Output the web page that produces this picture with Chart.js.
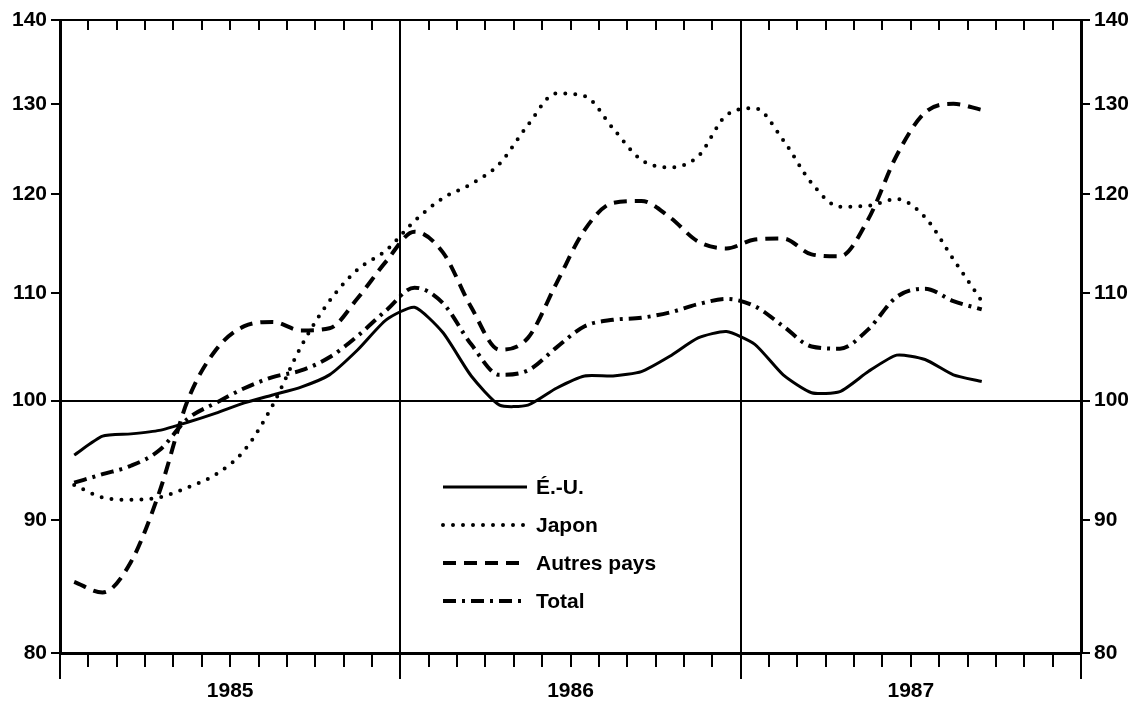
<!DOCTYPE html>
<html>
<head>
<meta charset="utf-8">
<script src="https://cdn.jsdelivr.net/npm/chart.js@4.4.1/dist/chart.umd.min.js"></script>
<style>
  body { margin: 0; background: #fff; }
  canvas { display: block; }
</style>
</head>
<body>
<canvas id="myChart" width="1143" height="702"></canvas>
<script>
// monthly points, Jan 1985 - Sep 1987 (axis runs to end of 1987)
var months = ['jan 85','fév 85','mar 85','avr 85','mai 85','jun 85','jul 85','aoû 85','sep 85','oct 85','nov 85','déc 85',
              'jan 86','fév 86','mar 86','avr 86','mai 86','jun 86','jul 86','aoû 86','sep 86','oct 86','nov 86','déc 86',
              'jan 87','fév 87','mar 87','avr 87','mai 87','jun 87','jul 87','aoû 87','sep 87']
var years = ['1985', '1986', '1987']
var yTicks = [80, 90, 100, 110, 120, 130, 140]

var eu = [95.3, 96.9, 97.1, 97.4, 98.1, 98.9, 99.8, 100.5, 101.2, 102.3, 104.6, 107.4,
          108.6, 106.2, 102.2, 99.6, 99.6, 101.1, 102.2, 102.2, 102.6, 104.0, 105.7, 106.3,
          105.1, 102.3, 100.7, 100.8, 102.6, 104.1, 103.7, 102.3, 101.7]
var japon = [92.8, 91.8, 91.6, 91.8, 92.6, 93.7, 95.7, 99.6, 104.9, 109.2, 112.3, 114.2,
             117.2, 119.6, 121.1, 123.3, 127.6, 131.2, 130.9, 127.2, 123.7, 122.9, 124.1, 128.7,
             129.5, 125.9, 121.2, 118.7, 118.8, 119.5, 117.6, 113.3, 109.2]
var autres = [85.2, 84.4, 86.7, 92.2, 100.0, 104.6, 106.8, 107.2, 106.4, 106.6, 109.5, 113.1,
              116.1, 114.0, 108.6, 104.6, 105.7, 110.9, 116.3, 119.1, 119.3, 117.6, 115.1, 114.4,
              115.3, 115.4, 113.8, 113.6, 117.4, 124.2, 129.0, 130.0, 129.3]
var total = [93.0, 93.7, 94.4, 95.7, 98.4, 99.8, 101.1, 102.1, 102.7, 103.9, 105.9, 108.3,
             110.5, 109.0, 105.1, 102.3, 102.7, 104.8, 106.8, 107.4, 107.6, 108.1, 108.9, 109.4,
             108.7, 106.8, 104.9, 104.7, 106.5, 109.6, 110.4, 109.2, 108.4]

var FONT = "'Liberation Sans', Arial, sans-serif"

function pts(arr) {
    return arr.map((v, i) => ({ x: i + 0.5, y: v }))
}

// legend drawn inside the plot, under the 1986 curves
var insideLegend = {
    id: 'insideLegend',
    afterDraw(chart) {
        let ctx = chart.ctx
        let rows = [487, 525, 563, 601]
        chart.data.datasets.forEach((ds, k) => {
            ctx.save()
            ctx.strokeStyle = '#000'
            ctx.lineWidth = ds.borderWidth
            ctx.lineCap = ds.borderCapStyle || 'butt'
            ctx.setLineDash(ds.borderDash || [])
            ctx.beginPath()
            ctx.moveTo(443, rows[k])
            ctx.lineTo(527, rows[k])
            ctx.stroke()
            ctx.restore()
            ctx.fillStyle = '#000'
            ctx.font = 'bold 21px ' + FONT
            ctx.textBaseline = 'middle'
            ctx.fillText(ds.label, 536, rows[k] + 1)
        })
    }
}

function yAxis(pos) {
    return {
        type: 'logarithmic',
        position: pos,
        min: 80,
        max: 140,
        afterBuildTicks: (s) => { s.ticks = yTicks.map(v => ({ value: v })) },
        afterFit: (s) => { s.width = pos == 'left' ? 60 : 62 },
        border: { color: '#000', width: 3 },
        grid: {
            drawOnChartArea: pos == 'left',
            color: (c) => (c.tick && (c.tick.value == 100 || c.tick.value == 140)) ? '#000' : 'rgba(0,0,0,0)',
            lineWidth: 2,
            tickColor: '#000',
            tickLength: 9,
            tickWidth: 2
        },
        ticks: {
            color: '#000',
            font: { family: FONT, size: 21, weight: 'bold' },
            padding: 4,
            callback: (v) => String(v)
        }
    }
}

new Chart('myChart', {
    type: 'line',
    data: {
        datasets: [
            { label: 'É.-U.', data: pts(eu), borderColor: '#000', borderWidth: 3, tension: 0.2 },
            { label: 'Japon', data: pts(japon), borderColor: '#000', borderWidth: 4, borderDash: [0, 10], borderCapStyle: 'round', cubicInterpolationMode: 'monotone' },
            { label: 'Autres pays', data: pts(autres), borderColor: '#000', borderWidth: 4, borderDash: [13, 8], cubicInterpolationMode: 'monotone' },
            { label: 'Total', data: pts(total), borderColor: '#000', borderWidth: 4, borderDash: [13, 6, 3, 6], cubicInterpolationMode: 'monotone' }
        ]
    },
    options: {
        responsive: false,
        animation: false,
        layout: { padding: { top: 20, left: 0, right: 0, bottom: 0 } },
        elements: { point: { radius: 0 } },
        plugins: { legend: { display: false }, tooltip: { enabled: false } },
        scales: {
            x: {
                type: 'linear',
                min: 0,
                max: 36,
                afterBuildTicks: (s) => {
                    let t = []
                    for (let i = 0; i <= 36; i++) t.push({ value: i })
                    s.ticks = t
                },
                afterFit: (s) => { s.height = 49 },
                // month marks: short ticks hanging from the top frame; year lines full height
                border: { color: '#000', width: 3, dash: (c) => (c.tick && c.tick.value % 12 != 0) ? [10, 2000] : [] },
                grid: {
                    color: '#000',
                    lineWidth: 2,
                    tickColor: '#000',
                    tickLength: 26,
                    tickWidth: 2,
                    tickBorderDash: (c) => (c.tick && c.tick.value % 12 != 0) ? [12, 100] : []
                },
                ticks: {
                    autoSkip: false,
                    maxRotation: 0,
                    padding: 0,
                    color: '#000',
                    font: { family: FONT, size: 21, weight: 'bold' },
                    callback: (v) => (v % 12 == 6) ? years[(v - 6) / 12] : ''
                }
            },
            y: yAxis('left'),
            y2: yAxis('right')
        }
    },
    plugins: [insideLegend]
})
</script>
</body>
</html>
